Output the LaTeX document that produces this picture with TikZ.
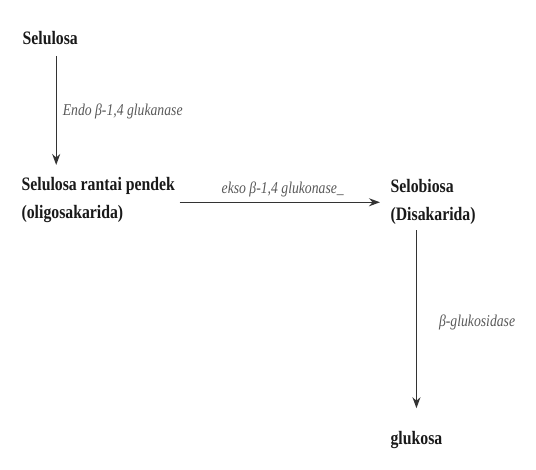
\documentclass[tikz,border=0pt]{standalone}
\usepackage{fontspec}
\setmainfont[FakeStretch=0.83]{Liberation Serif}
\usetikzlibrary{arrows.meta, positioning}

\begin{document}
\begin{tikzpicture}[x=1pt,y=-1pt,->,>={Stealth[length=11pt,width=8pt]},line width=1.2pt,
    zat/.style={font=\bfseries\fontsize{19}{28}\selectfont, text=black!90, inner sep=0pt, align=left},
    enzim/.style={font=\itshape\fontsize{16.5}{18}\selectfont, text=black!65, inner sep=0pt},
    panah/.style={draw=black!80}]
                \useasboundingbox (0,0) rectangle (536,470);
                \node[zat, anchor=base west] (selulosa) at (22,45) {Selulosa};
                \node[zat, anchor=north west] (pendek) at (21,177) {Selulosa rantai pendek\\(oligosakarida)};
                \node[zat, anchor=north west] (selobiosa) at (390,179) {Selobiosa\\(Disakarida)};
                \node[zat, anchor=base west] (glukosa) at (390,445) {glukosa};
                % selulosa -> oligosakarida
                \draw[panah, shorten <=10pt, shorten >=12pt] ([xshift=6pt]selulosa.south)
                    -- node[enzim, right=6pt] {Endo β-1,4 glukanase}
                    ([xshift=6pt]selulosa.south |- pendek.north);
                % oligosakarida -> selobiosa
                \draw[panah, shorten <=4pt, shorten >=10pt] ([yshift=-2pt]pendek.east)
                    -- node[enzim, above=5pt] {ekso β-1,4 glukonase\_}
                    ([yshift=-2pt]selobiosa.west |- pendek.east);
                % selobiosa -> glukosa
                \draw[panah, shorten <=5pt, shorten >=23pt] (selobiosa.south -| glukosa.north)
                    -- node[enzim, right=22pt, pos=0.47] {β-glukosidase}
                    (glukosa.north);
\end{tikzpicture}
\end{document}
